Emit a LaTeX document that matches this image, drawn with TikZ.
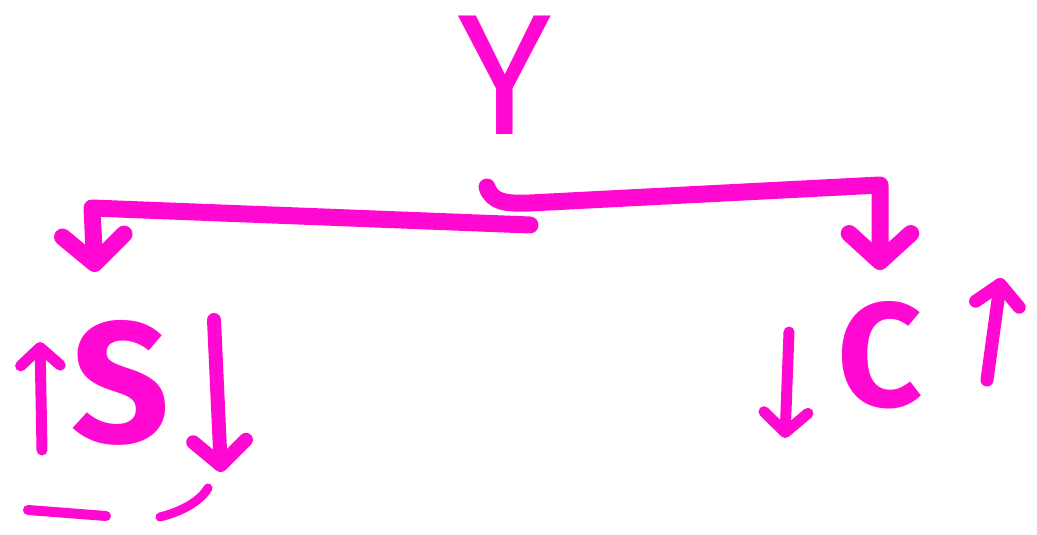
\documentclass[tikz,border=0pt]{standalone}
\usepackage{fontspec}
\setmainfont{Fira Sans}
\usetikzlibrary{arrows.meta}
\definecolor{pen}{RGB}{255,8,210}

\begin{document}
\begin{tikzpicture}[x=1pt, y=-1pt, line cap=round, line join=round,
    every node/.style={text=pen, inner sep=0pt, anchor=base, font=\bfseries},
    ink/.style={draw=pen, line width=11pt},
    fat/.style={draw=pen, line width=17pt},
    tip/.style={-{Straight Barb[round, length=#1, width=2.2*#1]}}]
        \useasboundingbox (0,0) rectangle (1037,535);

        % Letters
        \node[font=\fontsize{172}{172}\selectfont] (y) at (505,135) {Y};
        \node[font=\fontsize{172}{172}\selectfont\bfseries] (s) at (121,442) {S};
        \node[font=\fontsize{148}{148}\selectfont\bfseries] (c) at (880,406) {C};

        % Bracket below Y
        \coordinate (yr) at (487,187);
        \coordinate (yl) at (530,225);
        \coordinate (cr) at (880,185);
        \coordinate (sl) at (92,208);
        \draw[fat, tip=28pt] (yr) .. controls (492,202) and (505,204) .. (530,203) -- (cr) -- (c.north |- 0,270);
        \draw[fat, tip=28pt] (yl) -- (sl) -- (95,272);

        % Up and down arrows beside the letters
        \coordinate (a1) at (42,450);
        \coordinate (a2) at (40,342);
        \draw[ink, tip=18pt] (a1) -- (a2);
        \coordinate (b1) at (214,320);
        \coordinate (b2) at (221,472);
        \draw[draw=pen, line width=14pt, tip=24pt] (b1) -- (b2);
        \coordinate (d1) at (789,332);
        \coordinate (d2) at (785,438);
        \draw[ink, tip=20pt] (d1) -- (d2);
        \coordinate (e1) at (987,380);
        \coordinate (e2) at (1001,278);
        \draw[draw=pen, line width=13pt, tip=20pt] (e1) -- (e2);

        % Marks under S
        \coordinate (u1) at (28,510);
        \coordinate (u2) at (106,516);
        \draw[draw=pen, line width=10pt] (u1) -- (u2);
        \coordinate (v1) at (160,517);
        \coordinate (v2) at (208,488);
        \draw[draw=pen, line width=9pt] (v1) .. controls (180,512) and (200,502) .. (v2);
\end{tikzpicture}
\end{document}
